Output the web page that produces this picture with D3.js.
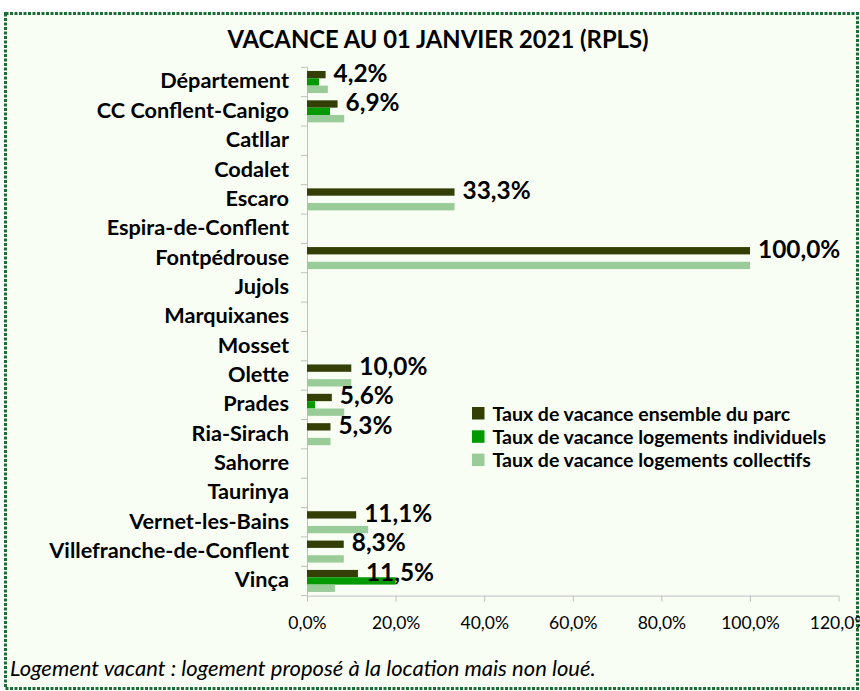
<!DOCTYPE html>
<html>
  <head>
    <meta charset="utf-8">
    <script src="https://d3js.org/d3.v7.min.js"></script>
    <style>
      body { margin: 0; background: #fff; }
      text { font-family: Lato, "Open Sans", sans-serif; fill: #000; }
      .cat { font-size: 21.7px; font-weight: bold; text-anchor: end; }
      .val { font-size: 24.4px; font-weight: bold; }
      .legend { font-size: 19.5px; font-weight: bold; }
      .tick text { font-size: 17.5px; font-family: Lato, sans-serif; }
    </style>
  </head>
  <body>
    <svg width="860" height="691"></svg>
    <script>
    var communes = ["Département", "CC Conflent-Canigo", "Catllar", "Codalet", "Escaro",
      "Espira-de-Conflent", "Fontpédrouse", "Jujols", "Marquixanes", "Mosset", "Olette",
      "Prades", "Ria-Sirach", "Sahorre", "Taurinya", "Vernet-les-Bains",
      "Villefranche-de-Conflent", "Vinça"];

    // taux en fraction, null = pas de barre
    var ensemble    = [0.042, 0.069, null, null, 0.333, null, 1.0, null, null, null, 0.10, 0.056, 0.053, null, null, 0.111, 0.083, 0.115];
    var individuels = [0.027, 0.052, null, null, null, null, null, null, null, null, null, 0.018, null, null, null, null, null, 0.20];
    var collectifs  = [0.047, 0.084, null, null, 0.333, null, 1.0, null, null, null, 0.10, 0.084, 0.053, null, null, 0.138, 0.083, 0.063];

    var seriesNames = ["Taux de vacance ensemble du parc", "Taux de vacance logements individuels", "Taux de vacance logements collectifs"];
    var colors = ["#343f06", "#009900", "#99cc99"];
    var xTicks = [0, 0.2, 0.4, 0.6, 0.8, 1.0, 1.2];
    var title = "VACANCE AU 01 JANVIER 2021 (RPLS)";
    var note = "Logement vacant : logement proposé à la location mais non loué.";

    var svg = d3.select("svg");
    var fr = d3.format(".1%");
    var fmt = function(v) { return fr(v).replace(".", ","); };

    // cadre
    svg.append("rect")
        .attr("x", 5.5).attr("y", 13.5).attr("width", 852).attr("height", 675)
        .attr("fill", "#f9fef5")
        .attr("stroke", "#1a6e35")
        .attr("stroke-width", 3)
        .attr("stroke-dasharray", "3,1.5");

    svg.append("text")
        .attr("x", 438).attr("y", 48)
        .attr("text-anchor", "middle")
        .style("font-size", "23.8px").style("font-weight", "bold")
        .text(title);

    var x = d3.scaleLinear().domain([0, 1.2]).range([307, 838.6]);
    var y = d3.scaleBand().domain(communes).range([67.3, 595.6]).paddingInner(0.25).paddingOuter(0.125);
    var y1 = d3.scaleBand().domain([0, 1, 2]).range([0, y.bandwidth()]);

    var step = y.step();
    var y0 = 67.3;

    // axe x
    var xAxis = svg.append("g")
        .attr("transform", "translate(0,595.6)")
        .call(d3.axisBottom(x).tickValues(xTicks).tickSize(6).tickPadding(12).tickFormat(fmt));
    xAxis.selectAll("line, path").attr("stroke", "#bfbfbf");
    xAxis.select(".domain").attr("d", "M307,0.5H838.6");
    xAxis.selectAll(".tick text").attr("dy", null).attr("y", 33.5);

    // axe y
    var yg = svg.append("g");
    yg.append("line").attr("x1", 307.5).attr("x2", 307.5).attr("y1", y0).attr("y2", 595.6).attr("stroke", "#bfbfbf");
    yg.selectAll("line.tk").data(d3.range(communes.length + 1)).enter().append("line")
        .attr("class", "tk")
        .attr("x1", 301).attr("x2", 307.5)
        .attr("y1", function(i) { return y0 + i * step; })
        .attr("y2", function(i) { return y0 + i * step; })
        .attr("stroke", "#bfbfbf");
    svg.selectAll("text.cat").data(communes).enter().append("text")
        .attr("class", "cat")
        .attr("x", 289)
        .attr("y", function(d) { return y(d) + y.bandwidth() / 2 + 6.5; })
        .text(function(d) { return d; });

    var allSeries = [ensemble, individuels, collectifs];
    allSeries.forEach(function(vals, s) {
      svg.append("g").selectAll("rect")
        .data(communes.map(function(c, i) { return {c: c, v: vals[i]}; }).filter(function(d) { return d.v != null; }))
        .enter().append("rect")
        .attr("x", x(0))
        .attr("y", function(d) { return y(d.c) + y1(s); })
        .attr("width", function(d) { return x(d.v) - x(0); })
        .attr("height", y1.bandwidth())
        .attr("fill", colors[s]);
    });

    // étiquettes
    svg.selectAll("text.val")
        .data(communes.map(function(c, i) { return {c: c, v: ensemble[i]}; }).filter(function(d) { return d.v != null; }))
        .enter().append("text")
        .attr("class", "val")
        .attr("x", function(d) { return x(d.v) + 8; })
        .attr("y", function(d) { return y(d.c) + y1(0) + y1.bandwidth() / 2 + 7; })
        .text(function(d) { return fmt(d.v); });

    // légende
    var lg = svg.append("g").selectAll("g").data(seriesNames).enter().append("g")
        .attr("transform", function(d, i) { return "translate(472," + (407 + i * 23.3) + ")"; });
    lg.append("rect").attr("width", 12.5).attr("height", 12.5).attr("fill", function(d, i) { return colors[i]; });
    lg.append("text").attr("class", "legend").attr("x", 20.5).attr("y", 13.5).text(function(d) { return d; });

    svg.append("text")
        .attr("x", 10).attr("y", 676)
        .style("font-size", "22px").style("font-style", "italic")
        .text(note);
    </script>
  </body>
</html>
